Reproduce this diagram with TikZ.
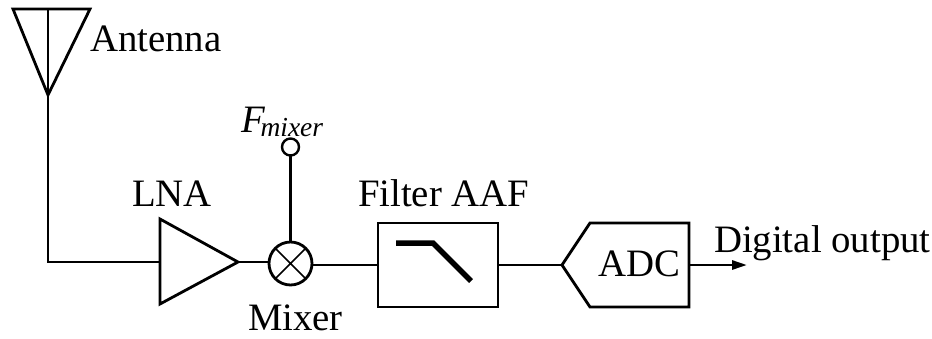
\documentclass[tikz,border=0pt]{standalone}
\usepackage{fontspec}
\setmainfont{Liberation Serif}
\usetikzlibrary{arrows.meta}
\tikzset{
  wire/.style={line width=2.8pt,line cap=butt,line join=miter,black},
  thinwire/.style={line width=1.5pt,black},
  lbl/.style={anchor=base west,inner sep=0pt,outer sep=0pt,font=\fontsize{38.8}{44}\selectfont},
  filt/.style={draw,line width=2.8pt,inner sep=0pt,outer sep=0pt,minimum width=120pt,minimum height=84pt},
  mix/.style={draw,circle,line width=2.8pt,inner sep=0pt,outer sep=0pt,minimum size=43pt},
  port/.style={draw,circle,line width=2.4pt,inner sep=0pt,outer sep=0pt,fill=white,minimum size=17pt}
}
\begin{document}
\begin{tikzpicture}[x=1pt,y=-1pt]
\useasboundingbox (0,0) rectangle (932,338);
% antenna
\coordinate (antL) at (13,9);
\coordinate (antR) at (90,9);
\coordinate (antTip) at (48,95);
\coordinate (antTop) at (48,9);
\coordinate (corner) at (48,262);
\draw[wire] (antL) -- (antR) -- (antTip) -- cycle;
\draw[wire] (antTop) -- (antTip);
% LNA
\coordinate (lnaA) at (160,219);
\coordinate (lnaB) at (160,304);
\coordinate (lnaOut) at (238,262);
\coordinate (lnaIn) at (160,262);
\draw[wire] (lnaA) -- (lnaOut) -- (lnaB) -- cycle;
\draw[wire] (antTip) -- (corner) -- (lnaIn);
% mixer
\node[mix] (mixer) at (290.5,263.5) {};
\draw[thinwire] (mixer.45) -- (mixer.225) (mixer.135) -- (mixer.315);
\draw[wire] (lnaOut) -- (mixer.west |- lnaOut);
\node[port] (fm) at (290.5,147) {};
\draw[wire] (fm) -- (mixer);
% filter
\node[filt] (filter) at (438,265) {};
\coordinate (fa) at (396,243);
\coordinate (fb) at (433,243);
\coordinate (fc) at (471,281);
\draw[line width=5.5pt] (fa) -- (fb) -- (fc);
\draw[wire] (mixer.east |- filter.west) -- (filter.west);
% ADC
\coordinate (adcTip) at (562,265);
\coordinate (adcA) at (590,223);
\coordinate (adcB) at (689,223);
\coordinate (adcC) at (689,307);
\coordinate (adcD) at (590,307);
\coordinate (adcOut) at (689,265);
\coordinate (outEnd) at (747,265);
\draw[wire] (adcTip) -- (adcA) -- (adcB) -- (adcC) -- (adcD) -- cycle;
\draw[wire] (filter.east) -- (adcTip);
\draw[wire,-{Triangle[length=15pt,width=9pt]}] (adcOut) -- (outEnd);
% labels
\node[lbl] (tAnt) at (90,51) {Antenna};
\node[lbl] (tLna) at (132,206) {LNA};
\node[lbl] (tFm) at (241,132) {\textit{F}\kern-4.5pt\raisebox{-4pt}{\fontsize{27.5}{30}\selectfont\itshape mixer}};
\node[lbl] (tMix) at (248,330) {Mixer};
\node[lbl] (tFil) at (358,206) {Filter AAF};
\node[lbl] (tAdc) at (598,276) {ADC};
\node[lbl] (tDig) at (714,252) {Digital output};
\end{tikzpicture}
\end{document}
